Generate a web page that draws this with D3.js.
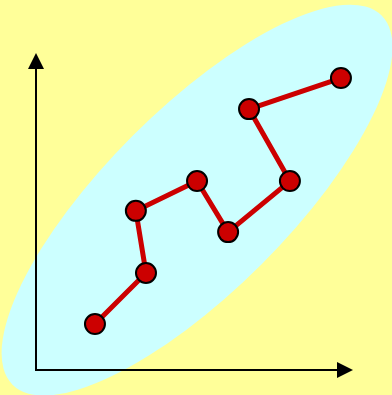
<!DOCTYPE html>
<html>
<head>
<meta charset="utf-8">
<script src="https://cdn.jsdelivr.net/npm/d3@7"></script>
<style>
  html, body { margin: 0; padding: 0; background: #ffff99; }
  svg { display: block; }
</style>
</head>
<body>
<div id="chart"></div>
<script>
// datos de la serie (unidades del eje, 0-100)
const xValues = [18.6, 34.7, 31.5, 50.8, 60.6, 80.1, 67.2, 96.2];
const yValues = [14.5, 30.6, 50.2, 59.6, 43.5, 59.6, 82.3, 92.1];
const puntos = xValues.map((x, i) => ({ x: x, y: yValues[i] }));

// elipse de fondo (centro en unidades de datos)
const elipseCentro = [50.8, 53.6];

const width = 392, height = 395;

const svg = d3.select("#chart").append("svg")
    .attr("width", width)
    .attr("height", height);

svg.append("rect")
    .attr("width", width)
    .attr("height", height)
    .attr("fill", "#ffff99");

// Escalas
const xScale = d3.scaleLinear().domain([0, 100]).range([36, 353]);
const yScale = d3.scaleLinear().domain([0, 100]).range([370, 53]);

// Elipse
svg.append("ellipse")
    .attr("cx", 0)
    .attr("cy", 0)
    .attr("rx", 261)
    .attr("ry", 91)
    .attr("fill", "#ccffff")
    .attr("transform", `translate(${xScale(elipseCentro[0])},${yScale(elipseCentro[1])}) rotate(-45)`);

// Ejes con flechas
const x0 = xScale(0), y0 = yScale(0);
const xTip = xScale(100), yTip = yScale(100);

svg.append("line")
    .attr("x1", x0).attr("y1", y0)
    .attr("x2", xTip - 14).attr("y2", y0)
    .attr("stroke", "#000").attr("stroke-width", 2);

svg.append("line")
    .attr("x1", x0).attr("y1", y0 + 1)
    .attr("x2", x0).attr("y2", yTip + 14)
    .attr("stroke", "#000").attr("stroke-width", 2);

svg.append("path")
    .attr("d", `M${xTip},${y0} L${xTip - 16},${y0 - 8} L${xTip - 16},${y0 + 8} Z`)
    .attr("fill", "#000");

svg.append("path")
    .attr("d", `M${x0},${yTip} L${x0 - 8},${yTip + 16} L${x0 + 8},${yTip + 16} Z`)
    .attr("fill", "#000");

// Linea
const linea = d3.line()
    .x(d => xScale(d.x))
    .y(d => yScale(d.y));

svg.append("path")
    .datum(puntos)
    .attr("d", linea)
    .attr("fill", "none")
    .attr("stroke", "#cc0000")
    .attr("stroke-width", 5)
    .attr("stroke-linejoin", "round");

// Dibujar puntos
svg.selectAll("circle")
    .data(puntos)
    .enter()
    .append("circle")
    .attr("cx", d => xScale(d.x))
    .attr("cy", d => yScale(d.y))
    .attr("r", 10)
    .attr("fill", "#cc0000")
    .attr("stroke", "#000")
    .attr("stroke-width", 2);
</script>
</body>
</html>
